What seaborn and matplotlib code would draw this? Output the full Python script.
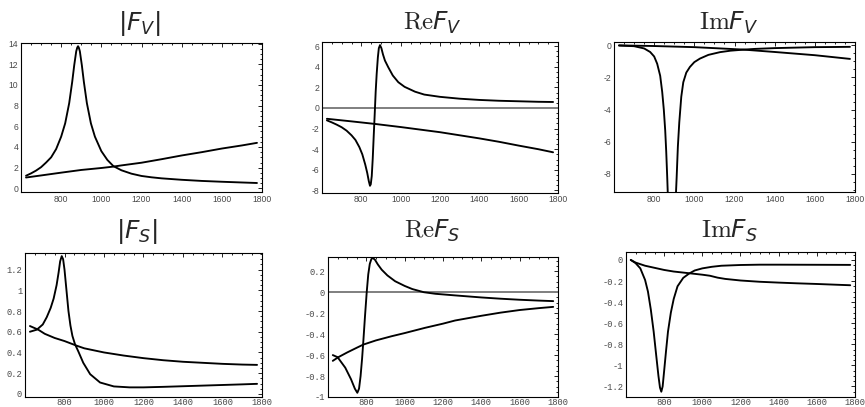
import numpy as np
import pandas as pd
import matplotlib
matplotlib.use("Agg")
import matplotlib.pyplot as plt
import seaborn as sns
from matplotlib.ticker import MultipleLocator, AutoMinorLocator, FuncFormatter

# ---------------- data ----------------
x_major = [800, 1000, 1200, 1400, 1600, 1800]

# |F_V|
absFV_res_x = [625, 650, 675, 700, 725, 750, 775, 800, 820, 840, 855, 865, 875, 880, 884, 888, 893, 903, 913,
               928, 948, 968, 1000, 1030, 1060, 1100, 1150, 1200, 1250, 1300, 1400, 1500, 1600, 1700, 1775]
absFV_res_y = [1.22, 1.45, 1.72, 2.05, 2.5, 3.0, 3.8, 5.0, 6.29, 8.24, 10.3, 11.9, 13.25, 13.6, 13.74, 13.6, 13.25,
               11.9, 10.3, 8.24, 6.29, 5.0, 3.6, 2.75, 2.15, 1.75, 1.42, 1.2, 1.07, 0.97, 0.83, 0.72, 0.64, 0.57, 0.52]
absFV_bg_x = [625, 700, 800, 900, 1000, 1058, 1100, 1200, 1300, 1400, 1500, 1600, 1700, 1775]
absFV_bg_y = [1.05, 1.25, 1.52, 1.78, 1.97, 2.1, 2.22, 2.48, 2.82, 3.18, 3.5, 3.85, 4.15, 4.4]

# Re F_V
reFV_res_x = [625, 650, 675, 700, 725, 750, 770, 790, 805, 820, 830, 838, 844, 848, 853, 858, 863, 868, 873,
              878, 884, 889, 895, 902, 910, 920, 937, 960, 988, 1020, 1073, 1120, 1200, 1300, 1400, 1500, 1600,
              1700, 1775]
reFV_res_y = [-1.2, -1.4, -1.62, -1.87, -2.2, -2.65, -3.1, -3.8, -4.5, -5.5, -6.3, -7.1, -7.55, -7.4, -6.6, -4.9,
              -2.7, -0.6, 1.6, 3.3, 4.9, 5.8, 6.1, 5.8, 5.2, 4.6, 3.95, 3.15, 2.5, 2.05, 1.58, 1.3, 1.08, 0.9,
              0.78, 0.7, 0.65, 0.6, 0.58]
reFV_bg_x = [625, 750, 870, 1000, 1100, 1200, 1300, 1400, 1500, 1600, 1700, 1775]
reFV_bg_y = [-1.05, -1.3, -1.55, -1.85, -2.1, -2.35, -2.65, -2.95, -3.28, -3.65, -4.0, -4.3]

# Im F_V
imFV_res_x = [625, 700, 750, 780, 800, 815, 830, 840, 848, 855, 860, 865, 870, 880, 887, 895, 905, 912, 918, 925,
              935, 945, 960, 978, 1000, 1028, 1070, 1128, 1180, 1240, 1300, 1400, 1500, 1600, 1700, 1775]
imFV_res_y = [-0.02, -0.06, -0.2, -0.42, -0.7, -1.15, -1.9, -2.9, -4.0, -5.3, -6.6, -8.2, -10.0, -12.5, -13.2,
              -12.5, -10.2, -8.2, -6.3, -4.8, -3.2, -2.3, -1.7, -1.35, -1.05, -0.83, -0.6, -0.43, -0.34, -0.28,
              -0.23, -0.18, -0.15, -0.12, -0.11, -0.1]
imFV_bg_x = [625, 800, 1000, 1242, 1400, 1600, 1775]
imFV_bg_y = [-0.01, -0.05, -0.12, -0.27, -0.42, -0.62, -0.85]

# |F_S|
absFS_res_x = [625, 660, 690, 710, 730, 745, 760, 770, 778, 786, 793, 800, 810, 820, 830, 840, 853, 870, 895,
               930, 980, 1050, 1130, 1200, 1300, 1400, 1500, 1600, 1700, 1775]
absFS_res_y = [0.6, 0.62, 0.67, 0.74, 0.83, 0.92, 1.05, 1.17, 1.28, 1.33, 1.3, 1.2, 1.0, 0.8, 0.66, 0.56, 0.48,
               0.41, 0.3, 0.19, 0.11, 0.072, 0.063, 0.063, 0.068, 0.074, 0.08, 0.086, 0.092, 0.097]
absFS_bg_x = [625, 667, 700, 750, 800, 862, 900, 1000, 1100, 1200, 1300, 1400, 1500, 1600, 1700, 1775]
absFS_bg_y = [0.655, 0.62, 0.58, 0.54, 0.51, 0.465, 0.44, 0.4, 0.37, 0.345, 0.325, 0.31, 0.3, 0.29, 0.283, 0.28]

# Re F_S
reFS_res_x = [625, 650, 690, 720, 740, 753, 762, 770, 778, 785, 793, 802, 810, 818, 826, 833, 845, 860, 880,
              910, 950, 1000, 1040, 1100, 1160, 1260, 1400, 1500, 1600, 1700, 1775]
reFS_res_y = [-0.6, -0.62, -0.72, -0.83, -0.92, -0.96, -0.92, -0.8, -0.63, -0.45, -0.23, 0.0, 0.17, 0.27, 0.315,
              0.328, 0.31, 0.265, 0.215, 0.16, 0.105, 0.06, 0.03, 0.0, -0.015, -0.03, -0.05, -0.062, -0.072,
              -0.08, -0.085]
reFS_bg_x = [625, 654, 700, 750, 784, 850, 932, 1000, 1106, 1200, 1263, 1400, 1500, 1600, 1700, 1775]
reFS_bg_y = [-0.655, -0.62, -0.575, -0.53, -0.5, -0.46, -0.42, -0.39, -0.34, -0.3, -0.27, -0.225, -0.195,
             -0.17, -0.152, -0.14]

# Im F_S
imFS_res_x = [625, 650, 675, 700, 715, 730, 745, 758, 770, 778, 785, 792, 800, 810, 820, 835, 850, 870, 900,
              930, 960, 1000, 1050, 1100, 1200, 1300, 1400, 1600, 1775]
imFS_res_y = [0.0, -0.03, -0.08, -0.19, -0.3, -0.47, -0.68, -0.9, -1.1, -1.21, -1.25, -1.2, -1.05, -0.86, -0.68,
              -0.5, -0.37, -0.25, -0.17, -0.13, -0.1, -0.08, -0.065, -0.055, -0.048, -0.045, -0.045, -0.046,
              -0.047]
imFS_bg_x = [625, 650, 700, 750, 800, 850, 900, 950, 1000, 1040, 1080, 1120, 1200, 1300, 1400, 1500, 1600,
             1700, 1775]
imFS_bg_y = [0.0, -0.025, -0.055, -0.075, -0.095, -0.11, -0.12, -0.13, -0.14, -0.15, -0.168, -0.18, -0.195,
             -0.207, -0.215, -0.222, -0.228, -0.235, -0.24]

titles = [r"$\mathsf{|}F_V\mathsf{|}$", r"$\mathrm{Re}F_V$", r"$\mathrm{Im}F_V$",
          r"$\mathsf{|}F_S\mathsf{|}$", r"$\mathrm{Re}F_S$", r"$\mathrm{Im}F_S$"]

# ---------------- styling ----------------
sns.set_theme(style="white")
plt.rcParams["font.family"] = ["DejaVu Sans"]
plt.rcParams["mathtext.fontset"] = "custom"
plt.rcParams["mathtext.rm"] = "cmr10"
plt.rcParams["mathtext.it"] = "DejaVu Sans:italic"
plt.rcParams["mathtext.sf"] = "DejaVu Sans"
plt.rcParams["axes.unicode_minus"] = False

W, H = 865, 407
fig = plt.figure(figsize=(W / 100, H / 100), dpi=100)
fig.patch.set_facecolor("white")


def rect(l, r, t, b):
    return [l / W, 1 - b / H, (r - l) / W, (b - t) / H]


panels = [
    dict(rect=rect(21, 262, 43, 192), ylim=(-0.35, 14.05), ystep=2, zero=False,
         curves=[(absFV_res_x, absFV_res_y), (absFV_bg_x, absFV_bg_y)], row=0, tx=139),
    dict(rect=rect(322, 558, 42, 192.5), ylim=(-8.2, 6.4), ystep=2, zero=True,
         curves=[(reFV_res_x, reFV_res_y), (reFV_bg_x, reFV_bg_y)], row=0, tx=432),
    dict(rect=rect(614, 855, 42, 192), ylim=(-9.12, 0.2), ystep=2, zero=False,
         curves=[(imFV_res_x, imFV_res_y), (imFV_bg_x, imFV_bg_y)], row=0, tx=729),
    dict(rect=rect(25, 262, 253, 397), ylim=(-0.03, 1.36), ystep=0.2, zero=False,
         curves=[(absFS_res_x, absFS_res_y), (absFS_bg_x, absFS_bg_y)], row=1, tx=137),
    dict(rect=rect(328, 558, 257, 397), ylim=(-1.0, 0.336), ystep=0.2, zero=True,
         curves=[(reFS_res_x, reFS_res_y), (reFS_bg_x, reFS_bg_y)], row=1, tx=432),
    dict(rect=rect(626, 855, 251.5, 397), ylim=(-1.30, 0.08), ystep=0.2, zero=False,
         curves=[(imFS_res_x, imFS_res_y), (imFS_bg_x, imFS_bg_y)], row=1, tx=729),
]


def fmt(v, pos):
    if abs(v) < 1e-9:
        return "0"
    return f"{round(v, 6):g}"


for i, p in enumerate(panels):
    ax = fig.add_axes(p["rect"])
    ax.set_facecolor("white")
    if p["zero"]:
        ax.axhline(0, color="#7f7f7f", lw=1.4, zorder=1)
    for cx, cy in p["curves"]:
        df = pd.DataFrame({"x": cx, "y": cy})
        sns.lineplot(data=df, x="x", y="y", ax=ax, color="black", linewidth=1.35,
                     sort=False, estimator=None, zorder=3)
    ax.set_xlim(600, 1800)
    ax.set_ylim(*p["ylim"])
    ax.set_xlabel("")
    ax.set_ylabel("")
    ax.set_xticks(x_major)
    ax.xaxis.set_minor_locator(AutoMinorLocator(4))
    ax.yaxis.set_major_locator(MultipleLocator(p["ystep"]))
    ax.yaxis.set_minor_locator(AutoMinorLocator(4))
    ax.yaxis.set_major_formatter(FuncFormatter(fmt))
    ax.xaxis.set_major_formatter(FuncFormatter(fmt))
    if p["row"] == 0:
        tfont = dict(family="Liberation Sans", size=6.2)
    else:
        tfont = dict(family="Liberation Mono", size=6.3)
    ax.tick_params(which="both", direction="in", top=True, right=True, colors="black",
                   labelcolor="#4a4a4a", width=0.6)
    ax.tick_params(which="major", length=3, pad=2)
    ax.tick_params(which="minor", length=1.6)
    if p["row"] == 1:
        ax.tick_params(axis="x", which="major", pad=0.8)
    for lab in ax.get_xticklabels() + ax.get_yticklabels():
        lab.set_fontfamily(tfont["family"])
        lab.set_fontsize(tfont["size"])
    for s in ax.spines.values():
        s.set_visible(True)
        s.set_color("black")
        s.set_linewidth(0.8)
    ty = 30 if p["row"] == 0 else 238
    fig.text(p["tx"] / W, 1 - ty / H, titles[i], ha="center", va="baseline", fontsize=18)

fig.savefig("out.png", dpi=100, facecolor="white")
